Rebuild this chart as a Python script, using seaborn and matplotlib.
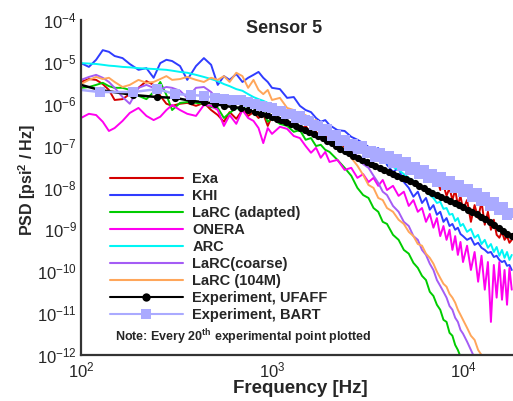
import numpy as np
import seaborn as sns
import matplotlib.pyplot as plt
from matplotlib.lines import Line2D
from matplotlib.ticker import LogLocator, NullFormatter

# frequency grid of the simulation curves [Hz]
freq = [100, 110, 120, 130, 140, 150, 165, 180, 200, 220,
        240, 260, 280, 300, 330, 360, 400, 440, 480, 520,
        560, 600, 650, 700, 750, 800, 850, 900, 950, 1000,
        1100, 1200, 1300, 1400, 1500, 1600, 1700, 1800, 1900, 2000,
        2200, 2400, 2600, 2800, 3000, 3200, 3400, 3600, 3800, 4000,
        4300, 4600, 4900, 5200, 5500, 5800, 6100, 6400, 6700, 7000,
        7300, 7600, 7900, 8200, 8500, 8800, 9100, 9400, 9700, 10000,
        10500, 11000, 11500, 12000, 12500, 13000, 13500, 14000, 14500, 15000,
        15500, 16000, 16500, 17000, 17500, 18000]

# log10 of PSD [psi^2/Hz]
exa = [-5.48, -5.41, -5.43, -5.53, -5.67, -5.91, -5.89, -5.77, -5.62, -5.46,
       -5.55, -5.81, -6.00, -6.05, -6.00, -5.98, -6.05, -5.98, -6.15, -6.27,
       -6.43, -6.20, -6.36, -6.15, -6.29, -6.20, -6.34, -6.24, -6.53, -6.29,
       -6.43, -6.51, -6.39, -6.63, -6.53, -6.72, -6.67, -6.82, -6.72, -6.91,
       -6.86, -7.05, -6.96, -7.15, -7.05, -7.20, -7.10, -7.29, -7.20, -7.39,
       -7.34, -7.53, -7.41, -7.63, -7.53, -7.72, -7.53, -7.82, -7.72, -7.89,
       -7.75, -8.06, -7.94, -8.20, -8.01, -8.30, -8.06, -8.42, -8.20, -8.53,
       -8.30, -8.82, -8.42, -8.73, -8.34, -8.89, -8.58, -9.01, -8.77, -9.13,
       -9.20, -9.06, -9.25, -9.16, -9.32, -9.25]

khi = [-5.03, -5.12, -4.95, -4.72, -4.76, -4.86, -4.91, -5.05, -5.19, -5.15,
       -5.38, -5.03, -4.95, -4.98, -5.10, -5.43, -5.10, -4.91, -5.07, -5.55,
       -5.34, -5.43, -5.29, -5.48, -5.38, -5.31, -5.24, -5.38, -5.48, -5.62,
       -5.65, -5.86, -5.84, -6.05, -6.15, -6.20, -6.34, -6.43, -6.39, -6.51,
       -6.63, -6.65, -6.79, -6.86, -6.94, -7.03, -7.10, -7.06, -7.22, -7.46,
       -7.63, -7.53, -7.87, -8.01, -8.22, -8.10, -8.37, -8.25, -8.53, -8.42,
       -8.65, -8.58, -8.82, -8.73, -8.92, -8.87, -9.01, -8.96, -9.11, -9.16,
       -9.25, -9.20, -9.37, -9.32, -9.44, -9.49, -9.56, -9.54, -9.66, -9.63,
       -9.73, -9.78, -9.75, -9.87, -9.85, -9.97]

larc_adapted = [-5.62, -5.60, -5.55, -5.50, -5.58, -5.62, -5.62, -5.67, -5.81, -5.89,
                -5.72, -5.48, -5.79, -6.15, -5.98, -5.96, -5.98, -6.00, -6.08, -6.10,
                -6.34, -6.22, -6.10, -6.15, -5.96, -6.05, -6.27, -6.20, -6.43, -6.34,
                -6.48, -6.53, -6.67, -6.63, -6.86, -6.82, -7.01, -6.98, -7.10, -7.15,
                -7.34, -7.53, -7.72, -8.01, -8.18, -8.25, -8.49, -8.58, -8.82, -8.87,
                -9.13, -9.25, -9.49, -9.58, -9.80, -9.92, -10.11, -10.21, -10.49, -10.59,
                -10.80, -10.92, -11.16, -11.21, -11.47, -11.54, -11.76, -11.88, -12.04, -12.16,
                -12.35, np.nan, np.nan, np.nan, np.nan, np.nan, np.nan, np.nan, np.nan, np.nan,
                np.nan, np.nan, np.nan, np.nan, np.nan, np.nan]

onera = [-6.34, -6.24, -6.27, -6.43, -6.65, -6.58, -6.41, -6.22, -6.10, -6.29,
         -6.39, -6.31, -6.15, -6.03, -6.15, -6.24, -6.29, -6.03, -6.05, -6.15,
         -6.53, -6.27, -6.48, -6.15, -6.34, -6.41, -6.58, -6.94, -6.58, -6.72,
         -6.55, -6.60, -6.77, -6.82, -7.01, -7.17, -7.05, -7.29, -7.15, -7.39,
         -7.34, -7.58, -7.53, -7.77, -7.68, -7.87, -7.77, -7.96, -7.82, -8.06,
         -7.96, -8.20, -8.10, -8.44, -8.30, -8.58, -8.49, -8.82, -8.63, -8.96,
         -8.73, -9.16, -8.92, -9.25, -9.01, -9.49, -9.16, -9.61, -9.30, -9.78,
         -9.39, -9.97, -9.54, -10.25, -9.63, -10.44, -9.78, -11.21, -9.85, -10.63,
         -9.78, -10.68, -9.97, -10.80, -9.92, -10.44]

arc = [-5.03, -5.04, -5.05, -5.07, -5.09, -5.10, -5.12, -5.13, -5.15, -5.16,
       -5.17, -5.18, -5.19, -5.21, -5.24, -5.26, -5.31, -5.36, -5.41, -5.46,
       -5.53, -5.58, -5.65, -5.69, -5.77, -5.84, -5.89, -5.93, -5.98, -6.03,
       -6.10, -6.17, -6.24, -6.32, -6.39, -6.46, -6.51, -6.58, -6.63, -6.67,
       -6.77, -6.86, -6.94, -7.01, -7.08, -7.15, -7.22, -7.29, -7.37, -7.41,
       -7.51, -7.58, -7.68, -7.77, -7.84, -7.94, -8.01, -8.08, -8.18, -8.25,
       -8.37, -8.34, -8.51, -8.49, -8.65, -8.63, -8.80, -8.73, -8.92, -8.87,
       -9.06, -8.99, -9.20, -9.13, -9.35, -9.25, -9.44, -9.35, -9.54, -9.42,
       -9.63, -9.49, -9.68, -9.54, -9.73, -9.61]

larc_coarse = [-5.43, -5.36, -5.31, -5.38, -5.48, -5.62, -5.84, -6.00, -5.62, -5.55,
               -5.62, -5.65, -5.60, -5.62, -5.69, -5.86, -5.62, -5.60, -5.72, -5.91,
               -5.84, -5.86, -5.91, -5.93, -5.96, -5.91, -6.03, -6.00, -6.10, -6.08,
               -6.15, -6.20, -6.29, -6.34, -6.43, -6.46, -6.55, -6.58, -6.65, -6.70,
               -6.82, -6.98, -7.10, -7.25, -7.44, -7.53, -7.72, -7.89, -8.10, -8.18,
               -8.44, -8.58, -8.82, -8.92, -9.16, -9.25, -9.49, -9.61, -9.82, -9.97,
               -10.21, -10.35, -10.49, -10.63, -10.83, -10.92, -11.11, -11.21, -11.40, -11.49,
               -11.68, -11.88, -12.07, -12.23, np.nan, np.nan, np.nan, np.nan, np.nan, np.nan,
               np.nan, np.nan, np.nan, np.nan, np.nan, np.nan]

larc_104m = [-5.53, -5.43, -5.36, -5.41, -5.38, -5.48, -5.60, -5.55, -5.43, -5.50,
             -5.48, -5.41, -5.34, -5.43, -5.41, -5.36, -5.43, -5.48, -5.38, -5.43,
             -5.34, -5.48, -5.26, -5.34, -5.62, -5.43, -5.67, -5.77, -5.67, -5.91,
             -5.86, -6.10, -6.15, -6.34, -6.27, -6.43, -6.39, -6.58, -6.53, -6.74,
             -6.91, -7.10, -7.29, -7.48, -7.70, -7.94, -8.01, -8.25, -8.30, -8.49,
             -8.58, -8.77, -8.87, -9.06, -9.16, -9.35, -9.39, -9.58, -9.68, -9.82,
             -10.01, -10.16, -10.30, -10.37, -10.54, -10.63, -10.75, -10.92, -11.04, -11.16,
             -11.35, -11.54, -11.64, -11.88, -12.00, -12.21, -12.35, np.nan, np.nan, np.nan,
             np.nan, np.nan, np.nan, np.nan, np.nan, np.nan]

# experimental data (every 20th point) [Hz], log10 PSD
exp_freq = [100, 125, 188, 250, 312, 375, 438, 500, 562, 625, 688, 750, 812, 875, 938,
            1000, 1060, 1120, 1190, 1260, 1330, 1400, 1480, 1560, 1650,
            1740, 1840, 1940, 2050, 2160, 2280, 2400, 2530, 2670, 2820,
            2970, 3130, 3300, 3480, 3670, 3870, 4080, 4300, 4530, 4780,
            5040, 5310, 5600, 5900, 6220, 6560, 6920, 7300, 7700, 8120,
            8560, 9030, 9520, 10040, 10590, 11170, 11780, 12420, 13100, 13810,
            14560, 15360, 16200, 17080, 18000]

ufaff = [-5.55, -5.67, -5.79, -5.84, -5.86, -5.93, -5.96, -6.00, -6.05, -6.08, -6.10, -6.15, -6.20, -6.24, -6.27,
         -6.31, -6.36, -6.39, -6.43, -6.48, -6.53, -6.58, -6.63, -6.67, -6.72,
         -6.77, -6.82, -6.89, -6.94, -7.01, -7.08, -7.13, -7.17, -7.25, -7.29,
         -7.34, -7.39, -7.44, -7.48, -7.53, -7.58, -7.63, -7.68, -7.72, -7.77,
         -7.79, -7.84, -7.89, -7.96, -8.01, -8.08, -8.13, -8.18, -8.22, -8.27,
         -8.32, -8.37, -8.42, -8.46, -8.53, -8.58, -8.63, -8.70, -8.75, -8.82,
         -8.89, -8.96, -9.04, -9.11, -9.15]

bart = [-5.67, -5.72, -5.72, -5.65, -5.77, -5.79, -5.81, -5.86, -5.89, -5.91, -5.91, -5.96, -6.00, -6.05, -6.08,
        -6.09, -6.18, -6.17, -6.25, -6.24, -6.34, -6.30, -6.38, -6.40, -6.51,
        -6.52, -6.64, -6.61, -6.76, -6.75, -6.90, -6.87, -7.00, -6.96, -7.09,
        -7.01, -7.18, -7.13, -7.28, -7.18, -7.32, -7.25, -7.42, -7.31, -7.48,
        -7.39, -7.58, -7.50, -7.67, -7.58, -7.77, -7.68, -7.86, -7.75, -7.94,
        -7.84, -8.01, -7.93, -8.11, -8.03, -8.22, -8.13, -8.32, -8.23, -8.44,
        -8.35, -8.53, -8.47, -8.65, -8.60]

sims = [('Exa', exa, '#D40000'),
        ('KHI', khi, '#2F3CFF'),
        ('LaRC (adapted)', larc_adapted, '#00CC00'),
        ('ONERA', onera, '#FF00F0'),
        ('ARC', arc, '#00F5F5'),
        ('LaRC(coarse)', larc_coarse, '#A45CF5'),
        ('LaRC (104M)', larc_104m, '#FFA65A')]

sns.set_style('white')
plt.rcParams.update({
    'font.family': 'Liberation Sans',
    'mathtext.fontset': 'custom',
    'mathtext.rm': 'Liberation Sans',
    'mathtext.bf': 'Liberation Sans:bold',
    'mathtext.default': 'regular',
})

fig = plt.figure(figsize=(5.13, 4.01), dpi=100)
ax = fig.add_axes([81 / 513, 46 / 401, 432 / 513, 335 / 401])
ax.set_xscale('log')
ax.set_yscale('log')

for name, vals, col in sims:
    sns.lineplot(x=freq, y=10.0 ** np.array(vals), color=col, lw=1.4,
                 estimator=None, errorbar=None, ax=ax)

sns.lineplot(x=exp_freq, y=10.0 ** np.array(ufaff), color='black', lw=1.8,
             marker='o', ms=5.2, mew=0, markevery=slice(1, None),
             estimator=None, errorbar=None, ax=ax)
sns.lineplot(x=exp_freq, y=10.0 ** np.array(bart), color='#AAAAFF', lw=1.8,
             marker='s', ms=7.2, mew=0, markevery=slice(1, None),
             estimator=None, errorbar=None, ax=ax)

ax.set_xlim(100, 18270)
ax.set_ylim(1e-12, 1e-4)

ax.yaxis.set_major_locator(LogLocator(base=10, numticks=12))
ax.yaxis.set_minor_locator(LogLocator(base=10, subs=range(2, 10), numticks=12))
ax.xaxis.set_major_locator(LogLocator(base=10, numticks=12))
ax.xaxis.set_minor_locator(LogLocator(base=10, subs=range(2, 10), numticks=12))
ax.xaxis.set_minor_formatter(NullFormatter())
ax.yaxis.set_minor_formatter(NullFormatter())
ax.tick_params(which='both', direction='in', top=False, right=False,
               color='#333333', width=1)
ax.tick_params(which='major', length=6, labelsize=12, pad=3)
ax.tick_params(which='minor', length=3)
ax.tick_params(axis='x', pad=4)

ax.spines[['top', 'right']].set_visible(False)
for s in ['left', 'bottom']:
    ax.spines[s].set_linewidth(1.6)
    ax.spines[s].set_color('#333333')

ax.set_xlabel('Frequency [Hz]', fontsize=13.5, fontweight='bold')
ax.xaxis.set_label_coords(0.507, -0.075)
ax.set_ylabel(r'PSD [psi$^{\mathbf{2}}$ / Hz]', fontsize=11.5, fontweight='bold')
ax.yaxis.set_label_coords(-0.1, 0.522)

ax.text(0.47, 0.976, 'Sensor 5', transform=ax.transAxes, fontsize=13,
        fontweight='bold', ha='center', va='center')

handles = [Line2D([], [], color=c, lw=1.5) for _, _, c in sims]
handles.append(Line2D([], [], color='black', lw=1.5, marker='o', ms=6, mew=0))
handles.append(Line2D([], [], color='#AAAAFF', lw=1.5, marker='s', ms=7, mew=0))
labels = [n for n, _, _ in sims] + ['Experiment, UFAFF', 'Experiment, BART']
ax.legend(handles, labels, loc='upper left', bbox_to_anchor=(0.067, 0.547),
          frameon=False, prop={'weight': 'bold', 'size': 10.5},
          handlelength=5.0, handletextpad=0.65, labelspacing=0.21,
          borderaxespad=0, borderpad=0)

ax.text(0.079, 0.054, r'Note: Every 20$^{\mathbf{th}}$ experimental point plotted',
        transform=ax.transAxes, fontsize=9, fontweight='bold', va='center')

fig.savefig('out.png', dpi=100)
